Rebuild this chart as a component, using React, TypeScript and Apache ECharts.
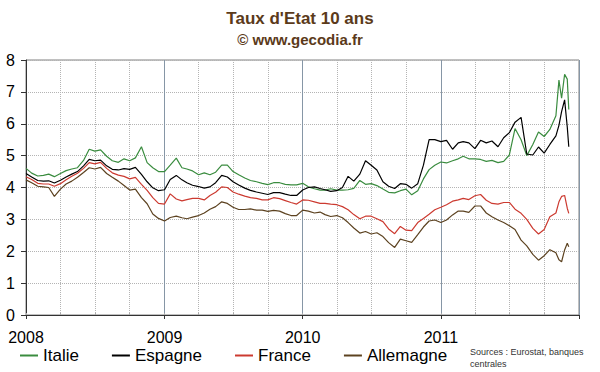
import React, { useEffect, useRef } from "react";
import * as echarts from "echarts";

// Dates: 1st and 16th of each month (Jan 2008 – Nov 2011), plus late-2011 points
const HALF_MONTH_DATES: string[] = [];
for (let y = 2008; y <= 2011; y++) {
  for (let m = 1; m <= 12; m++) {
    for (const d of [1, 16]) {
      const s = `${y}-${String(m).padStart(2, "0")}-${String(d).padStart(2, "0")}`;
      if (s <= "2011-11-01") HALF_MONTH_DATES.push(s);
    }
  }
}
const TAIL_DATES = ["2011-11-09", "2011-11-16", "2011-11-24", "2011-12-01", "2011-12-05"];
const DATES = [...HALF_MONTH_DATES, ...TAIL_DATES];

const ITALIE = [
  4.60, 4.45, 4.36, 4.38, 4.42, 4.34, 4.44, 4.53, 4.58, 4.62,
  4.85, 5.20, 5.14, 5.18, 4.98, 4.84, 4.79, 4.90, 4.84, 4.93,
  5.28, 4.78, 4.62, 4.50, 4.50, 4.70, 4.92, 4.62, 4.58, 4.52,
  4.40, 4.46, 4.40, 4.48, 4.70, 4.70, 4.50, 4.40, 4.30, 4.22,
  4.18, 4.13, 4.09, 4.15, 4.15, 4.10, 4.08, 4.08, 4.13, 4.02,
  3.96, 3.92, 3.92, 3.96, 3.92, 3.92, 3.93, 3.97, 4.22, 4.10,
  4.12, 4.06, 3.95, 3.85, 3.83, 3.90, 3.95, 3.77, 3.90, 4.27,
  4.56, 4.70, 4.80, 4.77, 4.84, 4.90, 4.98, 4.90, 4.90, 4.88,
  4.82, 4.85, 4.78, 4.82, 5.02, 5.85, 5.50, 5.00, 5.35, 5.74,
  5.60, 5.82, 6.25,
  7.37, 6.80, 7.55, 7.40, 6.45,
];

const ESPAGNE = [
  4.44, 4.33, 4.22, 4.20, 4.21, 4.14, 4.23, 4.33, 4.42, 4.50,
  4.68, 4.88, 4.84, 4.86, 4.68, 4.57, 4.55, 4.59, 4.57, 4.63,
  4.41, 4.18, 3.99, 3.90, 3.93, 4.25, 4.38, 4.24, 4.15, 4.07,
  4.03, 3.98, 4.02, 4.15, 4.38, 4.33, 4.18, 4.08, 3.98, 3.91,
  3.86, 3.82, 3.78, 3.84, 3.84, 3.79, 3.75, 3.75, 3.92, 4.00,
  4.02, 3.97, 3.93, 3.88, 3.90, 4.00, 4.35, 4.20, 4.42, 4.84,
  4.70, 4.55, 4.18, 4.04, 3.97, 4.12, 4.10, 3.98, 4.12, 4.70,
  5.50, 5.50, 5.44, 5.48, 5.20, 5.40, 5.44, 5.40, 5.22, 5.48,
  5.40, 5.46, 5.28, 5.56, 5.72, 6.05, 6.20, 5.05, 5.02, 5.27,
  5.08, 5.35, 5.62,
  5.95, 6.38, 6.75, 5.90, 5.28,
];

const FRANCE = [
  4.34, 4.25, 4.13, 4.11, 4.11, 4.04, 4.12, 4.24, 4.35, 4.45,
  4.60, 4.78, 4.74, 4.79, 4.60, 4.46, 4.39, 4.35, 4.27, 4.32,
  4.10, 3.91, 3.68, 3.50, 3.48, 3.80, 3.64, 3.58, 3.62, 3.66,
  3.66, 3.61, 3.75, 3.85, 4.02, 4.00, 3.86, 3.79, 3.73, 3.68,
  3.66, 3.61, 3.61, 3.68, 3.65, 3.59, 3.53, 3.48, 3.61, 3.60,
  3.55, 3.50, 3.50, 3.48, 3.46, 3.40, 3.30, 3.15, 3.02, 3.10,
  3.10, 3.02, 2.93, 2.70, 2.55, 2.78, 2.66, 2.65, 2.90, 3.03,
  3.16, 3.30, 3.38, 3.46, 3.57, 3.61, 3.66, 3.62, 3.74, 3.78,
  3.60, 3.50, 3.48, 3.53, 3.53, 3.32, 3.19, 3.00, 2.72, 2.54,
  2.68, 3.08, 3.20,
  3.55, 3.72, 3.75, 3.35, 3.19,
];

const ALLEMAGNE = [
  4.24, 4.15, 4.04, 4.02, 4.00, 3.72, 3.95, 4.11, 4.20, 4.32,
  4.47, 4.62, 4.58, 4.63, 4.44, 4.32, 4.20, 4.06, 3.92, 3.95,
  3.68, 3.49, 3.17, 3.03, 2.95, 3.06, 3.10, 3.05, 3.02, 3.07,
  3.12, 3.20, 3.32, 3.40, 3.55, 3.50, 3.38, 3.31, 3.31, 3.33,
  3.29, 3.29, 3.25, 3.28, 3.26, 3.18, 3.12, 3.12, 3.29, 3.26,
  3.20, 3.23, 3.15, 3.09, 3.12, 3.05, 2.90, 2.73, 2.57, 2.62,
  2.54, 2.58, 2.46, 2.27, 2.12, 2.38, 2.33, 2.28, 2.52, 2.76,
  2.95, 2.98, 2.90, 2.98, 3.14, 3.26, 3.26, 3.22, 3.42, 3.42,
  3.20, 3.08, 2.98, 2.90, 2.80, 2.68, 2.35, 2.17, 1.90, 1.72,
  1.86, 2.05, 1.95,
  1.73, 1.67, 2.04, 2.25, 2.14,
];

const SERIES_NAMES = ["Italie", "Espagne", "France", "Allemagne"];
const SERIES_VALUES = [ITALIE, ESPAGNE, FRANCE, ALLEMAGNE];
const SERIES_COLORS = ["#3a8c3f", "#000000", "#cc3a30", "#5c4220"];

const TITLE = "Taux d'Etat 10 ans";
const SUBTITLE = "© www.gecodia.fr";
const SOURCES = "Sources : Eurostat, banques\ncentrales";

const X_MIN = "2008-01-01";
const X_MAX = "2012-01-01";
const DAY = 24 * 3600 * 1000;
const FONT = "'Liberation Sans', Arial, sans-serif";

export default function App() {
  const ref = useRef<HTMLDivElement>(null);

  useEffect(() => {
    if (!ref.current) return;
    const chart = echarts.init(ref.current, undefined, { renderer: "svg" });

    const series: any[] = SERIES_NAMES.map((name, si) => ({
      name,
      type: "line",
      xAxisIndex: 0,
      yAxisIndex: 0,
      showSymbol: false,
      symbol: "none",
      data: DATES.map((d, i) => [d, SERIES_VALUES[si][i]]),
      lineStyle: { width: 1.2, color: SERIES_COLORS[si] },
      itemStyle: { color: SERIES_COLORS[si] },
    }));

    chart.setOption({
      animation: false,
      backgroundColor: "#ffffff",
      textStyle: { fontFamily: FONT },
      title: {
        text: TITLE,
        subtext: SUBTITLE,
        left: "center",
        top: 5,
        itemGap: 5,
        textStyle: { fontSize: 17, fontWeight: "bold", color: "#5b3a1a", fontFamily: FONT },
        subtextStyle: { fontSize: 15, fontWeight: "bold", color: "#5b3a1a", fontFamily: FONT },
      },
      legend: {
        data: SERIES_NAMES,
        left: 20,
        top: 347,
        padding: 0,
        itemGap: 33,
        itemWidth: 18,
        itemHeight: 2,
        icon: "rect",
        textStyle: { fontSize: 17, color: "#000", fontFamily: FONT },
      },
      grid: {
        left: 26,
        right: 21,
        top: 60,
        bottom: 57,
        show: true,
        borderColor: "#808080",
        borderWidth: 1,
        backgroundColor: "transparent",
      },
      xAxis: [
        {
          type: "time",
          min: X_MIN,
          max: X_MAX,
          splitNumber: 16,
          minInterval: 80 * DAY,
          maxInterval: 100 * DAY,
          axisLine: { show: true, lineStyle: { color: "#333", width: 1 } },
          axisTick: { show: true, inside: true, length: 2, lineStyle: { color: "#aaa" } },
          axisLabel: {
            fontSize: 16,
            color: "#000",
            margin: 14,
            fontFamily: FONT,
            showMaxLabel: false,
            formatter: (v: number) => {
              const d = new Date(v);
              return d.getMonth() === 0 && d.getFullYear() < 2012 ? String(d.getFullYear()) : "";
            },
          },
          splitLine: { show: true, lineStyle: { type: "dotted", color: "#b4b4b4", width: 1 } },
        },
        {
          type: "time",
          min: X_MIN,
          max: X_MAX,
          splitNumber: 4,
          minInterval: 300 * DAY,
          position: "bottom",
          axisLine: { show: false },
          axisTick: { show: true, length: 4, lineStyle: { color: "#333" } },
          axisLabel: { show: false },
          splitLine: { show: true, lineStyle: { type: "solid", color: "#8696a6", width: 1 } },
        },
      ],
      yAxis: {
        type: "value",
        min: 0,
        max: 8,
        interval: 1,
        axisLine: { show: true, lineStyle: { color: "#333", width: 1 } },
        axisTick: { show: true, length: 5, lineStyle: { color: "#333" } },
        axisLabel: { fontSize: 16, color: "#000", margin: 11, fontFamily: FONT },
        splitLine: { show: true, lineStyle: { type: "dotted", color: "#b4b4b4", width: 1 } },
      },
      graphic: [
        {
          type: "text",
          left: 470,
          top: 346,
          style: { text: SOURCES, fontSize: 9, lineHeight: 12, fill: "#333", fontFamily: FONT },
        },
      ],
      series,
    });

    return () => chart.dispose();
  }, []);

  return (
    <div
      ref={ref}
      style={{ position: "fixed", left: 0, top: 0, width: 600, height: 372, background: "#fff" }}
    />
  );
}
